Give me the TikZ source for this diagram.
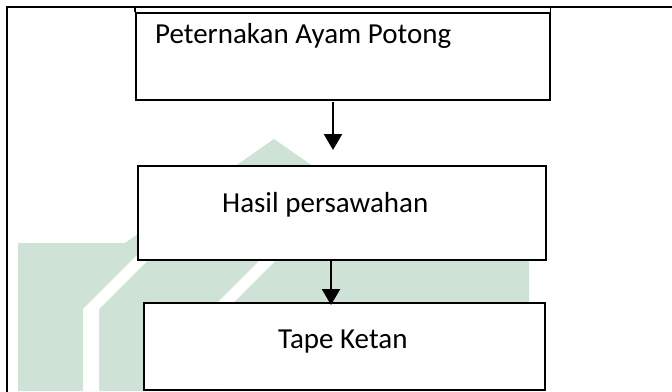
\documentclass[tikz,border=0pt]{standalone}
\usepackage{fontspec}
\setmainfont{Carlito}
\usetikzlibrary{arrows.meta}
\definecolor{wmgreen}{RGB}{206,226,214}
\tikzset{
  box/.style={draw=black, line width=1.6pt, fill=white, rectangle, inner sep=0pt, anchor=north west},
  lbl/.style={anchor=base west, inner sep=0pt, font=\fontsize{29}{34}\selectfont, text=black},
  arr/.style={line width=2.4pt, -{Triangle[width=18pt,length=16pt]}},
  frame/.style={line width=2pt}
}
\begin{document}
\begin{tikzpicture}[x=1pt,y=-1pt]
\useasboundingbox (0,0) rectangle (672,391);
% faint watermark
\fill[wmgreen] (18,391) -- (18,243) -- (125,243) -- (274,139) -- (423,243) -- (529,243) -- (529,391) -- cycle;
\fill[white] (83,391) -- (83,309) -- (151,241) -- (167,241) -- (99,309) -- (99,391) -- cycle;
\fill[white] (208,391) -- (208,312) -- (265,255) -- (281,255) -- (224,312) -- (224,391) -- cycle;
% outer frame
\draw[frame] (7,392) -- (7,7) -- (673,7);
% boxes
\node[box, minimum width=414pt, minimum height=87pt] (box1) at (135,12) {};
\node[box, minimum width=408pt, minimum height=94pt] (box2) at (137,165) {};
\node[box, minimum width=401pt, minimum height=87pt] (box3) at (143,302) {};
\draw[line width=1.6pt] (box1.north west) -- ++(0,-6);
\draw[line width=1.6pt] (box1.north east) -- ++(0,-6);
% texts
\node[lbl] (t1) at (155,43) {Peternakan Ayam Potong};
\node[lbl] (t2) at (222,212) {Hasil persawahan};
\node[lbl] (t3) at (278,348) {Tape Ketan};
% connectors
\coordinate (a1s) at (333,102);
\coordinate (a1e) at (333,150);
\coordinate (a2e) at (331,305);
\draw[arr] (a1s) -- (a1e);
\draw[arr] (box2.south -| a2e) -- (a2e);
\end{tikzpicture}
\end{document}
